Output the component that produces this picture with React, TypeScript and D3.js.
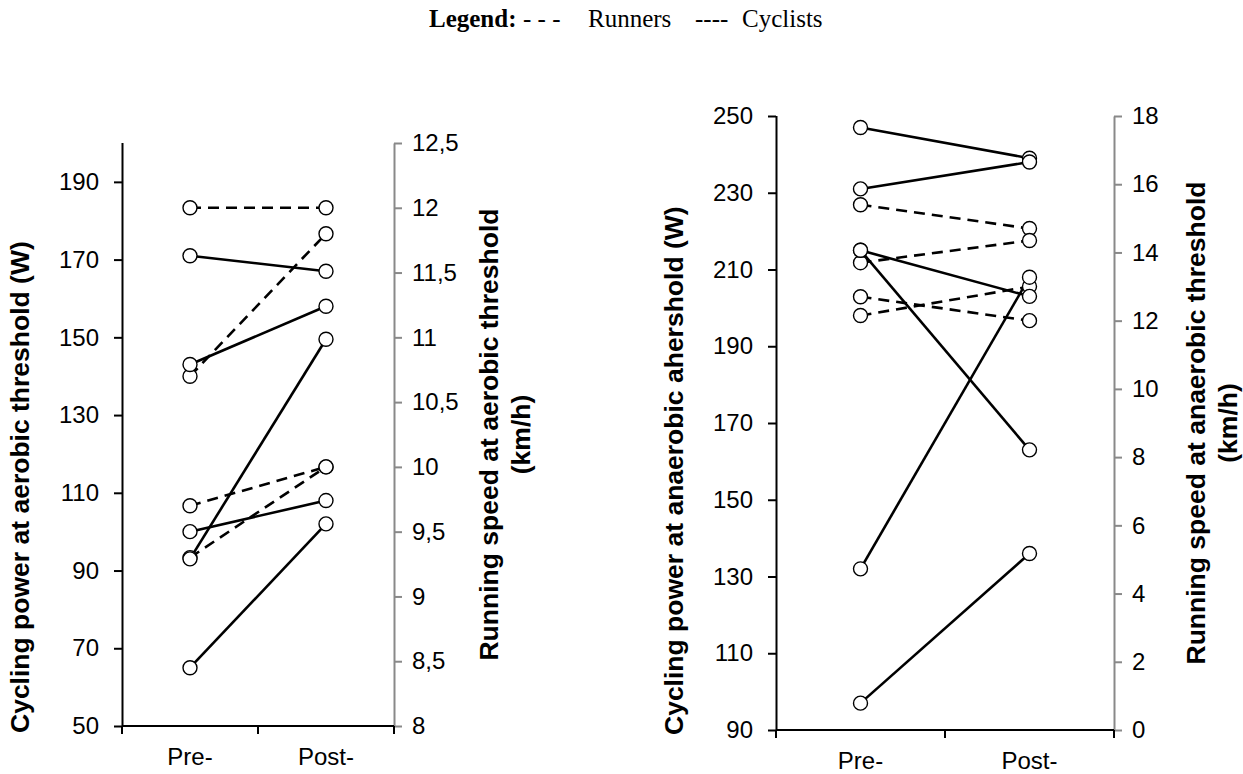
import { useEffect, useRef } from 'react';
import * as d3 from 'd3';

const groups = ['Pre-', 'Post-'];

// Aerobic threshold: cyclists in W (left axis), runners in km/h (right axis)
const aerobicCyclistsPre = [171, 143, 93, 100, 65];
const aerobicCyclistsPost = [167, 158, 149.5, 108, 102];
const aerobicRunnersPre = [12, 10.7, 9.7, 9.3];
const aerobicRunnersPost = [12, 11.8, 10, 10];
const aerobicPowerTicks = [50, 70, 90, 110, 130, 150, 170, 190];
const aerobicSpeedTicks = [8, 8.5, 9, 9.5, 10, 10.5, 11, 11.5, 12, 12.5];

// Anaerobic threshold
const anaerobicCyclistsPre = [247, 231, 215, 215, 132, 97];
const anaerobicCyclistsPost = [239, 238, 203, 163, 208, 136];
const anaerobicRunnersPre = [15.4, 13.7, 12.7, 12.15];
const anaerobicRunnersPost = [14.7, 14.35, 12.0, 13.0];
const anaerobicPowerTicks = [90, 110, 130, 150, 170, 190, 210, 230, 250];
const anaerobicSpeedTicks = [0, 2, 4, 6, 8, 10, 12, 14, 16, 18];

const FONT = '"Liberation Sans", Arial, sans-serif';
const SERIF = '"Liberation Serif", "Times New Roman", serif';

interface Panel {
  left: number;
  right: number;
  top: number;
  bottom: number;
  powerDomain: [number, number];
  powerTicks: number[];
  speedDomain: [number, number];
  speedTicks: number[];
  cyclistsPre: number[];
  cyclistsPost: number[];
  runnersPre: number[];
  runnersPost: number[];
  powerLabel: string;
  powerLabelX: number;
  powerLabelY: number;
  speedLabel: string[];
  speedLabelX: number;
}

const panels: Panel[] = [
  {
    left: 122, right: 394, top: 143, bottom: 726,
    powerDomain: [50, 200], powerTicks: aerobicPowerTicks,
    speedDomain: [8, 12.5], speedTicks: aerobicSpeedTicks,
    cyclistsPre: aerobicCyclistsPre, cyclistsPost: aerobicCyclistsPost,
    runnersPre: aerobicRunnersPre, runnersPost: aerobicRunnersPost,
    powerLabel: 'Cycling power at aerobic threshold (W)',
    powerLabelX: 29, powerLabelY: 733,
    speedLabel: ['Running speed at aerobic threshold', '(km/h)'],
    speedLabelX: 498,
  },
  {
    left: 776, right: 1114, top: 116, bottom: 730,
    powerDomain: [90, 250], powerTicks: anaerobicPowerTicks,
    speedDomain: [0, 18], speedTicks: anaerobicSpeedTicks,
    cyclistsPre: anaerobicCyclistsPre, cyclistsPost: anaerobicCyclistsPost,
    runnersPre: anaerobicRunnersPre, runnersPost: anaerobicRunnersPost,
    powerLabel: 'Cycling power at anaerobic ahershold (W)',
    powerLabelX: 683, powerLabelY: 735,
    speedLabel: ['Running speed at anaerobic threshold', '(km/h)'],
    speedLabelX: 1205,
  },
];

function drawPanel(svg: d3.Selection<SVGSVGElement, unknown, null, undefined>, p: Panel) {
  const x = d3.scaleBand<string>().domain(groups).range([p.left, p.right]);
  const cx = (i: number) => (x(groups[i]) ?? 0) + x.bandwidth() / 2;
  const yPower = d3.scaleLinear().domain(p.powerDomain).range([p.bottom, p.top]);
  const ySpeed = d3.scaleLinear().domain(p.speedDomain).range([p.bottom, p.top]);

  const g = svg.append('g');

  // right (speed) axis, gray
  const rightAxis = d3.axisRight(ySpeed)
    .tickValues(p.speedTicks)
    .tickSize(8)
    .tickSizeOuter(0)
    .tickPadding(10)
    .tickFormat(d => String(d).replace('.', ','));
  g.append('g')
    .attr('transform', `translate(${p.right},0)`)
    .call(rightAxis)
    .attr('font-size', 24)
    .attr('font-family', FONT)
    .call(a => a.select('.domain').attr('stroke', '#898989').attr('stroke-width', 2))
    .call(a => a.selectAll('.tick line').attr('stroke', '#898989').attr('stroke-width', 2))
    .call(a => a.selectAll('.tick text').attr('fill', '#000'));

  // left (power) axis
  const leftAxis = d3.axisLeft(yPower)
    .tickValues(p.powerTicks)
    .tickSize(8)
    .tickSizeOuter(0)
    .tickPadding(15);
  const la = g.append('g')
    .attr('transform', `translate(${p.left},0)`)
    .call(leftAxis)
    .attr('font-size', 24)
    .attr('font-family', FONT)
    .call(a => a.select('.domain').attr('stroke', '#000').attr('stroke-width', 2))
    .call(a => a.selectAll('.tick line').attr('stroke', '#000').attr('stroke-width', 2))
    .call(a => a.selectAll('.tick text').attr('fill', '#000'));
  // keep top of domain at the top of the plot
  la.select('.domain').attr('d', `M0.5,${p.bottom}V${p.top}`);

  // x axis with ticks at the category boundaries
  const xa = g.append('g');
  xa.append('line')
    .attr('x1', p.left).attr('x2', p.right)
    .attr('y1', p.bottom).attr('y2', p.bottom)
    .attr('stroke', '#000').attr('stroke-width', 2);
  const bounds = [...groups.map(d => x(d) ?? 0), x.range()[1]];
  xa.selectAll('line.tick')
    .data(bounds)
    .join('line')
    .attr('class', 'tick')
    .attr('x1', d => d).attr('x2', d => d)
    .attr('y1', p.bottom).attr('y2', p.bottom + 8)
    .attr('stroke', '#000').attr('stroke-width', 2);
  xa.selectAll('text')
    .data(groups)
    .join('text')
    .attr('x', (_, i) => cx(i))
    .attr('y', p.bottom + 39)
    .attr('text-anchor', 'middle')
    .attr('font-family', FONT)
    .attr('font-size', 24)
    .text(d => d);

  // axis titles
  g.append('text')
    .attr('transform', `translate(${p.powerLabelX},${p.powerLabelY}) rotate(-90)`)
    .attr('font-family', FONT)
    .attr('font-size', 26.5)
    .attr('font-weight', 'bold')
    .text(p.powerLabel);

  const midY = (p.top + p.bottom) / 2;
  p.speedLabel.forEach((t, i) => {
    g.append('text')
      .attr('transform', `translate(${p.speedLabelX + i * 32},${midY}) rotate(-90)`)
      .attr('text-anchor', 'middle')
      .attr('font-family', FONT)
      .attr('font-size', 26.5)
      .attr('font-weight', 'bold')
      .text(t);
  });

  // lines
  const cyclists = d3.zip(p.cyclistsPre, p.cyclistsPost);
  const runners = d3.zip(p.runnersPre, p.runnersPost);
  const powerLine = d3.line<number>().x((_, i) => cx(i)).y(d => yPower(d));
  const speedLine = d3.line<number>().x((_, i) => cx(i)).y(d => ySpeed(d));

  g.selectAll('path.runner')
    .data(runners)
    .join('path')
    .attr('class', 'runner')
    .attr('d', d => speedLine(d))
    .attr('fill', 'none')
    .attr('stroke', '#000')
    .attr('stroke-width', 2.6)
    .attr('stroke-dasharray', '11,7');

  g.selectAll('path.cyclist')
    .data(cyclists)
    .join('path')
    .attr('class', 'cyclist')
    .attr('d', d => powerLine(d))
    .attr('fill', 'none')
    .attr('stroke', '#000')
    .attr('stroke-width', 2.6);

  // markers
  const pts = [
    ...runners.flatMap(r => r.map((v, i) => ({ x: cx(i), y: ySpeed(v) }))),
    ...cyclists.flatMap(r => r.map((v, i) => ({ x: cx(i), y: yPower(v) }))),
  ];
  g.selectAll('circle')
    .data(pts)
    .join('circle')
    .attr('cx', d => d.x)
    .attr('cy', d => d.y)
    .attr('r', 7)
    .attr('fill', '#fff')
    .attr('stroke', '#000')
    .attr('stroke-width', 1.4);
}

export default function App() {
  const svgRef = useRef<SVGSVGElement>(null);

  useEffect(() => {
    if (!svgRef.current) return;
    const svg = d3.select(svgRef.current);
    svg.selectAll('*').remove();

    // legend line at the top
    const legend = svg.append('text')
      .attr('y', 27)
      .attr('font-family', SERIF)
      .attr('font-size', 25)
      .attr('fill', '#000');
    legend.append('tspan').attr('x', 429).attr('font-weight', 'bold').text('Legend:');
    legend.append('tspan').attr('x', 523).text('- - -');
    legend.append('tspan').attr('x', 588).text('Runners');
    legend.append('tspan').attr('x', 695).text('----');
    legend.append('tspan').attr('x', 742).text('Cyclists');

    panels.forEach(p => drawPanel(svg, p));
  }, []);

  return (
    <svg
      ref={svgRef}
      width={1243}
      height={774}
      style={{ position: 'absolute', left: 0, top: 0, background: '#fff' }}
    />
  );
}
